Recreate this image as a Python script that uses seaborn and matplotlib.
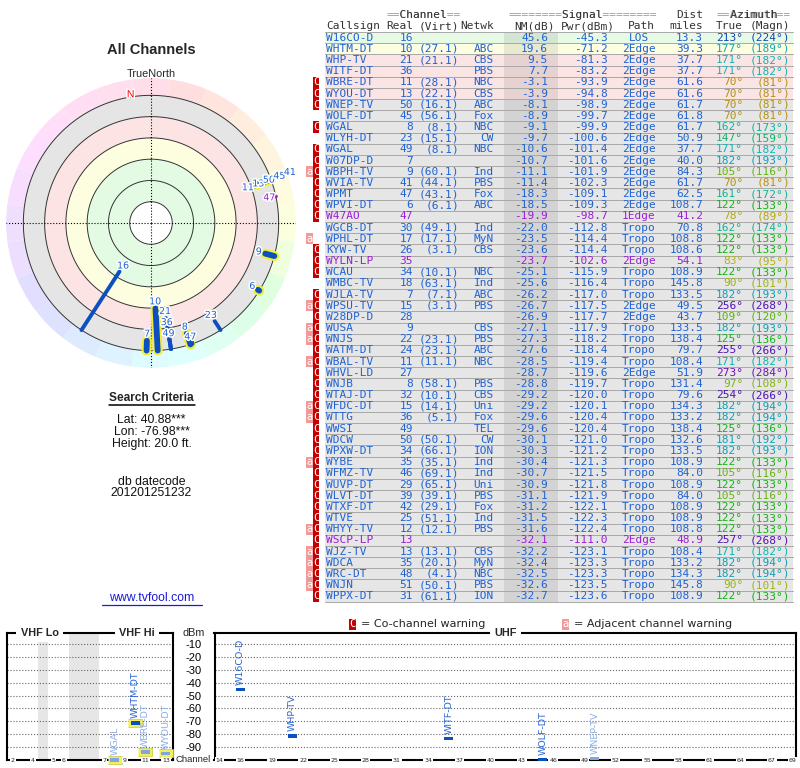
import colorsys
import numpy as np
import pandas as pd
import matplotlib
matplotlib.use('Agg')
import matplotlib.pyplot as plt
import matplotlib.patheffects as pe
from matplotlib.patches import Rectangle
import seaborn as sns

sns.set_theme(style='white')
plt.rcParams['font.family'] = ['Liberation Sans', 'DejaVu Sans']

# station table
callsign = ['W16CO-D', 'WHTM-DT', 'WHP-TV', 'WITF-DT', 'WBRE-DT', 'WYOU-DT', 'WNEP-TV', 'WOLF-DT',
            'WGAL', 'WLYH-DT', 'WGAL', 'W07DP-D', 'WBPH-TV', 'WVIA-TV', 'WPMT', 'WPVI-DT', 'W47AO',
            'WGCB-DT', 'WPHL-DT', 'KYW-TV', 'WYLN-LP', 'WCAU', 'WMBC-TV', 'WJLA-TV', 'WPSU-TV',
            'W28DP-D', 'WUSA', 'WNJS', 'WATM-DT', 'WBAL-TV', 'WHVL-LD', 'WNJB', 'WTAJ-DT', 'WFDC-DT',
            'WTTG', 'WWSI', 'WDCW', 'WPXW-DT', 'WYBE', 'WFMZ-TV', 'WUVP-DT', 'WLVT-DT', 'WTXF-DT',
            'WTVE', 'WHYY-TV', 'WSCP-LP', 'WJZ-TV', 'WDCA', 'WRC-DT', 'WNJN', 'WPPX-DT']
real_ch = [16, 10, 21, 36, 11, 13, 50, 45, 8, 23, 49, 7, 9, 41, 47, 6, 47, 30, 17, 26, 35, 34, 18, 7,
           15, 28, 9, 22, 24, 11, 27, 8, 32, 15, 36, 49, 50, 34, 35, 46, 29, 39, 42, 25, 12, 13, 13,
           35, 48, 51, 31]
virt_ch = ['', '(27.1)', '(21.1)', '', '(28.1)', '(22.1)', '(16.1)', '(56.1)', '(8.1)', '(15.1)',
           '(8.1)', '', '(60.1)', '(44.1)', '(43.1)', '(6.1)', '', '(49.1)', '(17.1)', '(3.1)', '',
           '(10.1)', '(63.1)', '(7.1)', '(3.1)', '', '', '(23.1)', '(23.1)', '(11.1)', '', '(58.1)',
           '(10.1)', '(14.1)', '(5.1)', '', '(50.1)', '(66.1)', '(35.1)', '(69.1)', '(65.1)',
           '(39.1)', '(29.1)', '(51.1)', '(12.1)', '', '(13.1)', '(20.1)', '(4.1)', '(50.1)', '(61.1)']
netwk = ['', 'ABC', 'CBS', 'PBS', 'NBC', 'CBS', 'ABC', 'Fox', 'NBC', 'CW', 'NBC', '', 'Ind', 'PBS',
         'Fox', 'ABC', '', 'Ind', 'MyN', 'CBS', '', 'NBC', 'Ind', 'ABC', 'PBS', '', 'CBS', 'PBS',
         'ABC', 'NBC', '', 'PBS', 'CBS', 'Uni', 'Fox', 'TEL', 'CW', 'ION', 'Ind', 'Ind', 'Uni', 'PBS',
         'Fox', 'Ind', 'PBS', '', 'CBS', 'MyN', 'NBC', 'PBS', 'ION']
nm_db = [45.6, 19.6, 9.5, 7.7, -3.1, -3.9, -8.1, -8.9, -9.1, -9.7, -10.6, -10.7, -11.1, -11.4, -18.3,
         -18.5, -19.9, -22.0, -23.5, -23.6, -23.7, -25.1, -25.6, -26.2, -26.7, -26.9, -27.1, -27.3,
         -27.6, -28.5, -28.7, -28.8, -29.2, -29.2, -29.6, -29.6, -30.1, -30.3, -30.4, -30.7, -30.9,
         -31.1, -31.2, -31.5, -31.6, -32.1, -32.2, -32.4, -32.5, -32.6, -32.7]
pwr_dbm = [-45.3, -71.2, -81.3, -83.2, -93.9, -94.8, -98.9, -99.7, -99.9, -100.6, -101.4, -101.6,
           -101.9, -102.3, -109.1, -109.3, -98.7, -112.8, -114.4, -114.4, -102.6, -115.9, -116.4,
           -117.0, -117.5, -117.7, -117.9, -118.2, -118.4, -119.4, -119.6, -119.7, -120.0, -120.1,
           -120.4, -120.4, -121.0, -121.2, -121.3, -121.5, -121.8, -121.9, -122.1, -122.3, -122.4,
           -111.0, -123.1, -123.3, -123.3, -123.5, -123.6]
path = (['LOS'] + ['2Edge'] * 15 + ['1Edge'] + ['Tropo'] * 3 + ['2Edge'] + ['Tropo'] * 3
        + ['2Edge'] * 2 + ['Tropo'] * 4 + ['2Edge'] + ['Tropo'] * 14 + ['2Edge'] + ['Tropo'] * 5)
dist_mi = [13.3, 39.3, 37.7, 37.7, 61.6, 61.6, 61.7, 61.8, 61.7, 50.9, 37.7, 40.0, 84.3, 61.7, 62.5,
           108.7, 41.2, 70.8, 108.8, 108.6, 54.1, 108.9, 145.8, 133.5, 49.5, 43.7, 133.5, 138.4,
           79.7, 108.4, 51.9, 131.4, 79.6, 134.3, 133.2, 138.4, 132.6, 133.5, 108.9, 84.0, 108.9,
           84.0, 108.9, 108.9, 108.8, 48.9, 108.4, 133.2, 134.3, 145.8, 108.9]
az_true = [213, 177, 171, 171, 70, 70, 70, 70, 162, 147, 171, 182, 105, 70, 161, 122, 78, 162, 122,
           122, 83, 122, 90, 182, 256, 109, 182, 125, 255, 171, 273, 97, 254, 182, 182, 125, 181,
           182, 122, 105, 122, 105, 122, 122, 122, 257, 171, 182, 182, 90, 122]
az_magn = [224, 189, 182, 182, 81, 81, 81, 81, 173, 159, 182, 193, 116, 81, 172, 133, 89, 174, 133,
           133, 95, 133, 101, 193, 268, 120, 193, 136, 266, 182, 284, 108, 266, 194, 194, 136, 192,
           193, 133, 116, 133, 116, 133, 133, 133, 268, 182, 194, 194, 101, 133]
warn = ['', '', '', '', 'C', 'C', 'C', '', 'C', '', 'C', 'C', 'aC', 'C', 'C', 'C', 'C', '', 'a',
        'C', 'C', 'C', '', 'C', 'aC', 'C', 'aC', 'aC', 'C', 'aC', 'C', 'C', 'C', 'aC', 'aC', 'C',
        'C', 'C', 'aC', 'C', 'C', 'C', 'C', 'C', 'aC', 'C', 'aC', 'aC', 'aC', 'aC', 'C']
low_power = ['W47AO', 'WYLN-LP', 'WSCP-LP']

df = pd.DataFrame(dict(callsign=callsign, real=real_ch, virt=virt_ch, netwk=netwk, nm=nm_db,
                       pwr=pwr_dbm, path=path, dist=dist_mi, az=az_true, magn=az_magn, warn=warn))
df['lp'] = df.callsign.isin(low_power)

BLUE = '#1f62d2'
BAR = '#0c4fc0'
PURPLE = '#9b1fd6'
MONO = 'DejaVu Sans Mono'


def az_hue(a):
    return np.interp(a, [0, 45, 70, 90, 110, 122, 150, 171, 182, 213, 255, 273, 315, 360],
                     [-20, 30, 48, 68, 95, 120, 155, 180, 188, 220, 263, 275, 310, 340]) % 360


def az_color(a, s=0.9, v=0.7):
    return colorsys.hsv_to_rgb(az_hue(a) / 360, s, v)


def row_color(v):
    if v >= 30:
        return '#e6fae6'
    if v >= 15:
        return '#fdfde1'
    if v >= -5:
        return '#fbe4e4'
    return '#e6e6e6'


fig = plt.figure(figsize=(8, 7.68), dpi=100)
bg = fig.add_axes([0, 0, 1, 1])
bg.set_xlim(0, 800)
bg.set_ylim(768, 0)
bg.axis('off')

# left column text
bg.text(151.5, 50.5, 'All Channels', ha='center', va='center', fontsize=10.5, fontweight='bold')
bg.text(151.5, 74, 'TrueNorth', ha='center', va='center', fontsize=7.8)
bg.text(151.5, 398, 'Search Criteria', ha='center', va='center', fontsize=8.6, fontweight='bold')
bg.plot([108.5, 195], [404.5, 404.5], color='black', lw=1.1)
for y, s in [(420, 'Lat: 40.88***'), (432.3, 'Lon: -76.98***'), (444.3, 'Height: 20.0 ft.'),
             (481.7, 'db datecode'), (493.3, '201201251232')]:
    bg.text(151.5, y, s, ha='center', va='center', fontsize=8.8, color='#111111')
bg.text(151.5, 598, 'www.tvfool.com', ha='center', va='center', fontsize=8.8, color='#1a1ad8')
bg.plot([102, 201.5], [604.5, 604.5], color='#1a1ad8', lw=0.9)

# table
ROW0, DY = 37.7, 11.17
X0, X1 = 325, 792.5
n = len(df)
CW = 8 * 100 / 72 * 0.602


def banner(xc, y, s):
    xl = xc - len(s) * CW / 2
    bg.text(xl, y, s, ha='left', va='center', family=MONO, fontsize=8, color='#9a9a9a')
    bg.text(xl, y, ''.join(' ' if c == '=' else c for c in s), ha='left', va='center',
            family=MONO, fontsize=8, color='#333333')


banner(423, 15, '==Channel==')
banner(581.7, 15, '========Signal========')
banner(753.3, 15, '==Azimuth==')
bg.text(703, 15, 'Dist', ha='right', va='center', family=MONO, fontsize=8, color='#333333')
for x, s, ha in [(326, 'Callsign', 'left'), (413, 'Real', 'right'), (459, '(Virt)', 'right'),
                 (494, 'Netwk', 'right'), (555, 'NM(dB)', 'right'), (615, 'Pwr(dBm)', 'right'),
                 (655, 'Path', 'right'), (703, 'miles', 'right'), (743, 'True', 'right'),
                 (790, '(Magn)', 'right')]:
    bg.text(x, 26.3, s, ha=ha, va='center', family=MONO, fontsize=8, color='#333333')

for i, r in enumerate(df.itertuples()):
    yc = ROW0 + i * DY
    bg.add_patch(Rectangle((X0, yc - DY / 2), X1 - X0, DY, fc=row_color(r.nm), ec='none', zorder=1))
    if 'a' in r.warn:
        bg.add_patch(Rectangle((306, yc - DY / 2), 6.6, DY, fc='#f29a9a', ec='none', zorder=1))
        bg.text(309.3, yc, 'a', ha='center', va='center', family=MONO, fontsize=7.5,
                color='white', zorder=4)
    if 'C' in r.warn:
        bg.add_patch(Rectangle((312.8, yc - DY / 2), 6.6, DY, fc='#c40000', ec='none', zorder=1))
        bg.text(316.1, yc, 'C', ha='center', va='center', family=MONO, fontsize=7.5,
                color='white', zorder=4)
    col = PURPLE if r.lp else BLUE
    kw = dict(va='center', family=MONO, fontsize=8, zorder=4)
    bg.text(326, yc, r.callsign, ha='left', color=col, **kw)
    bg.text(413, yc, str(r.real), ha='right', color=col, **kw)
    bg.text(459, yc, r.virt, ha='right', color=col, **kw)
    bg.text(494, yc, r.netwk, ha='right', color=col, **kw)
    bg.text(548, yc, f'{r.nm:.1f}', ha='right', color=col, **kw)
    bg.text(608, yc, f'{r.pwr:.1f}', ha='right', color=col, **kw)
    bg.text(639, yc, r.path, ha='center', color=col, **kw)
    bg.text(703, yc, f'{r.dist:.1f}', ha='right', color=col, **kw)
    azc = az_color(r.az)
    bg.text(743, yc, f'{r.az}°', ha='right', color=azc, **kw)
    bg.text(790, yc, f'({r.magn}°)', ha='right', color=azc, **kw)

bg.add_patch(Rectangle((504, ROW0 - DY / 2), 54, n * DY, fc='black', alpha=0.08, ec='none', zorder=2))
for i in range(n + 1):
    y = ROW0 - DY / 2 + i * DY
    bg.plot([X0, X1], [y, y], color='#a8a8a8', lw=0.7, zorder=3)

# legend line above the channel chart
bg.add_patch(Rectangle((349, 618.5), 6.6, 11, fc='#c40000', ec='none'))
bg.text(352.3, 624, 'C', ha='center', va='center', family=MONO, fontsize=7.5, color='white')
bg.text(361, 624, '= Co-channel warning', ha='left', va='center', family='DejaVu Sans', fontsize=8)
bg.add_patch(Rectangle((562, 618.5), 6.6, 11, fc='#f29a9a', ec='none'))
bg.text(565.3, 624, 'a', ha='center', va='center', family=MONO, fontsize=7.5, color='white')
bg.text(574, 624, '= Adjacent channel warning', ha='left', va='center', family='DejaVu Sans', fontsize=8)
bg.text(193.5, 633, 'dBm', ha='center', va='center', fontsize=7.8)
bg.text(193.5, 759.5, 'Channel', ha='center', va='center', fontsize=6.8)

# polar plot: radius = 100 - NM(dB)
RMAX = 136.3
pax = fig.add_axes([6 / 800, 1 - 368 / 768, 290 / 800, 290 / 768], projection='polar')
pax.set_theta_zero_location('N')
pax.set_theta_direction(-1)
pax.set_ylim(0, RMAX)
pax.set_xticks([])
pax.set_yticks([])
pax.grid(False)
pax.spines['polar'].set_visible(False)

for lo, hi, c in [(20, 60, '#e3fae3'), (60, 80, '#fdfde0'), (80, 100, '#fce4e4'), (100, 120, '#e5e5e5')]:
    pax.bar(0, hi - lo, width=2 * np.pi, bottom=lo, color=c, align='edge', lw=0, zorder=1)
wedge_az = np.arange(0, 360, 15)
pax.bar(np.deg2rad(wedge_az), RMAX - 120, width=np.deg2rad(15), bottom=120, lw=0, zorder=1,
        color=[colorsys.hsv_to_rgb(az_hue(a) / 360, 0.13, 1.0) for a in wedge_az])

circ = np.linspace(0, 2 * np.pi, 361)
for rr in [20, 40, 60, 80, 100, 120]:
    pax.plot(circ, np.full_like(circ, rr), color='#333333', lw=0.7, zorder=2)
for a in [0, 90, 180, 270]:
    pax.plot([np.deg2rad(a)] * 2, [0, RMAX], color='black', lw=0.8, ls=':', zorder=2)

halo = [pe.withStroke(linewidth=2.2, foreground='white')]
pax.text(np.deg2rad(-9), 122.5, 'N', color='red', fontsize=7.5, ha='center', va='center',
         path_effects=halo, zorder=6)

placed = []
for r in df[df.nm > -20].itertuples():
    th = np.deg2rad(r.az)
    r_in = 100 - r.nm
    vhf = r.real <= 13
    lw = 4.2 if vhf else 2.8
    if vhf:
        pax.plot([th, th], [r_in, 120], color='#f0ee3a', lw=lw + 3, solid_capstyle='round', zorder=3)
    pax.plot([th, th], [r_in, 120], color=PURPLE if r.lp else BAR, lw=lw,
             solid_capstyle='round', zorder=4)
    lab = r_in - 6.2
    moved = True
    while moved:
        moved = False
        for pa, pr in placed:
            if abs(pa - r.az) <= 4 and abs(pr - lab) < 10:
                lab = pr + 10.5
                moved = True
    placed.append((r.az, lab))
    pax.text(th, lab, str(r.real), ha='center', va='center', fontsize=6.8, family='DejaVu Sans',
             color=PURPLE if r.lp else BLUE, path_effects=halo, zorder=5)

# channel / power chart
def vhf_x(c):
    return c - 2 if c <= 4 else (c - 1 if c <= 6 else c + 2)


shown = df[(df.nm > -10) & (df.pwr >= -100)].copy()
shown['cc'] = shown.warn.str.contains('C')
shown['vhf'] = shown.real <= 13
shown['x'] = [vhf_x(c) if v else c for c, v in zip(shown.real, shown.vhf)]

vax = fig.add_axes([7 / 800, 8 / 768, 166 / 800, 127 / 768])
uax = fig.add_axes([214.5 / 800, 8 / 768, 581.5 / 800, 127 / 768])
for ax in (vax, uax):
    ax.set_facecolor('white')
    ax.set_ylim(-100, -1.4)
    ax.set_yticks(np.arange(-90, 0, 10))
    ax.set_xticks([])
    ax.set_axisbelow(True)
    ax.grid(axis='y', ls=':', color='#666666', lw=0.8)
    for s in ax.spines.values():
        s.set_color('black')
        s.set_linewidth(1.5)
vax.set_xlim(-0.56, 15.7)
uax.set_xlim(13.5, 69.3)
vax.set_yticklabels([])
vax.tick_params(axis='y', length=0)
uax.set_yticklabels([str(v) for v in np.arange(-90, 0, 10)])
uax.tick_params(axis='y', length=0, pad=9, labelsize=8, labelcolor='black')
vax.axvspan(2.5, 3.5, color='#e6e6e6', lw=0, zorder=0)
vax.axvspan(5.5, 8.5, color='#e6e6e6', lw=0, zorder=0)

rect = [(-1, -0.4), (1, -0.4), (1, 0.4), (-1, 0.4)]
glow = [(-1, -0.55), (1, -0.55), (1, 0.55), (-1, 0.55)]
for ax, part in ((vax, shown[shown.vhf]), (uax, shown[~shown.vhf])):
    hl = part[part.vhf]
    if len(hl):
        sns.scatterplot(data=hl, x='x', y='pwr', marker=glow, s=100, color='#f2f05a',
                        edgecolor='#c8c44a', linewidth=0.5, ax=ax, legend=False, clip_on=False, zorder=3)
    sns.scatterplot(data=part, x='x', y='pwr', hue='cc', palette={False: BAR, True: '#7ea6e2'},
                    marker=rect, s=42, linewidth=0, ax=ax, legend=False, clip_on=False, zorder=4)
    for r in part.itertuples():
        ax.text(r.x, r.pwr + 3.5, r.callsign, rotation=90, ha='center', va='bottom', fontsize=6.8,
                family='DejaVu Sans', color='#8fb0e6' if r.cc else '#2b66d4', zorder=5)
    ax.set_xlabel('')
    ax.set_ylabel('')

tick_kw = dict(ha='center', va='center', fontsize=4.5, family='DejaVu Sans', zorder=6, clip_on=False,
               bbox=dict(fc='white', ec='none', pad=0.6))
for c in [2, 4, 5, 6, 7, 9, 11, 13]:
    vax.text(vhf_x(c), 0, str(c), transform=vax.get_xaxis_transform(), **tick_kw)
for c in [14] + list(range(16, 68, 3)) + [69]:
    uax.text(c, 0, str(c), transform=uax.get_xaxis_transform(), **tick_kw)

top_kw = dict(ha='center', va='center', fontsize=7.8, fontweight='bold', zorder=6, clip_on=False,
              bbox=dict(fc='white', ec='none', pad=3))
vax.text(0.196, 1, 'VHF Lo', transform=vax.transAxes, **top_kw)
vax.text(0.783, 1, 'VHF Hi', transform=vax.transAxes, **top_kw)
uax.text(0.5, 1, 'UHF', transform=uax.transAxes, **top_kw)

fig.savefig('out.png', dpi=100)
